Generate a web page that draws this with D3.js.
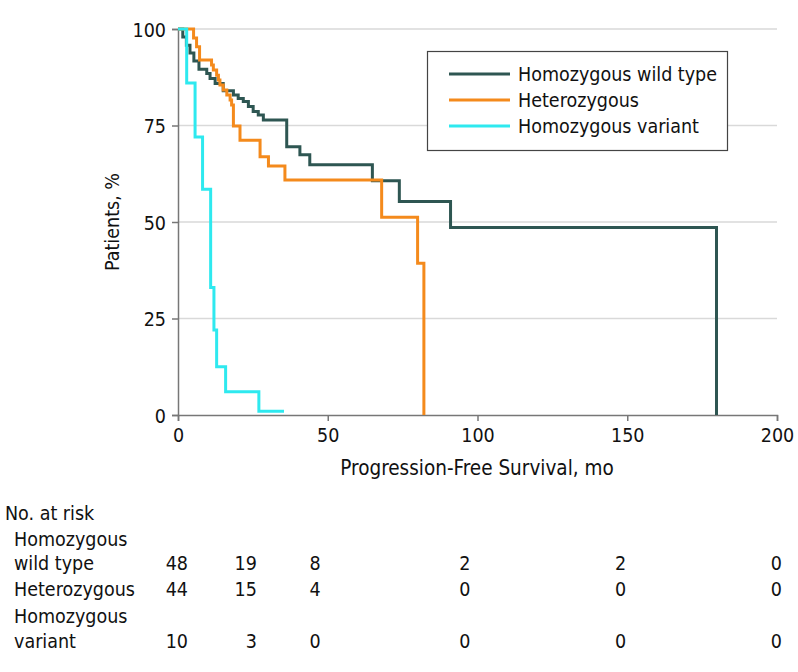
<!DOCTYPE html>
<html><head><meta charset="utf-8">
<script src="https://cdn.jsdelivr.net/npm/d3@7"></script>
<style>
body{margin:0;background:#fff;}
svg{display:block;font-family:"DejaVu Sans Condensed","DejaVu Sans",sans-serif;}
</style></head>
<body><svg id="c" width="798" height="672"></svg>
<script>
// ---- data ----
const seriesNames = ["Homozygous wild type", "Heterozygous", "Homozygous variant"];
const seriesColors = ["#2e5652", "#f48a1c", "#2ee9ef"];
// [time (mo), survival %] after each step
const wildType = [[0,100],[1.6,97.9],[2.8,95.8],[4.0,93.8],[5.3,91.7],[7.0,89.6],[9.6,88.5],[10.7,87.2],[12.4,85.9],[15.1,84.0],[18.5,82.9],[20.1,82.0],[21.8,81.2],[23.5,79.9],[25.1,78.6],[26.8,77.7],[28.5,76.4],[36.3,69.5],[40.7,67.4],[44,64.8],[64.9,60.7],[73.9,55.3],[91,48.6],[179.8,0]];
const heterozygous = [[0,100],[5.2,97.7],[6.2,95.4],[7.2,92.0],[11.2,90.7],[11.8,89.4],[12.9,88],[13.5,86.8],[14,85.5],[15.1,84.2],[16.3,82.9],[17.4,81.6],[17.9,80.3],[18.5,74.9],[20.7,71.2],[27.4,66.9],[30.2,64.5],[35.7,60.9],[68,51.2],[80,39.3],[82.1,0]];
const homVariant = [[0,100],[2.9,86],[5.7,72],[8.2,58.5],[10.9,33],[12,22],[12.9,12.5],[15.9,6],[27,1],[35.4,1]];
const xTicks = [0, 50, 100, 150, 200];
const yTicks = [0, 25, 50, 75, 100];
const riskTimes = [0, 25, 50, 100, 150, 200];
const riskLabels = [["Homozygous","wild type"],["Heterozygous"],["Homozygous","variant"]];
const riskWild = [48, 19, 8, 2, 2, 0];
const riskHet = [44, 15, 4, 0, 0, 0];
const riskVar = [10, 3, 0, 0, 0, 0];

// ---- layout ----
const svg = d3.select("#c");
const L = 178, R = 777, T = 29, B = 415;
const x = d3.scaleLinear().domain([0, 200]).range([L, R]);
const y = d3.scaleLinear().domain([0, 100]).range([B, T]);
const fs = 19.5;
const FF = "'DejaVu Sans Condensed','DejaVu Sans',sans-serif";

// grid
svg.append("g").selectAll("line").data(yTicks.filter(d => d > 0)).join("line")
  .attr("x1", L).attr("x2", R).attr("y1", d => y(d)).attr("y2", d => y(d))
  .attr("stroke", "#d9d9d9").attr("stroke-width", 1.5);

// axes
const xa = svg.append("g").attr("transform", `translate(0,${B})`)
  .call(d3.axisBottom(x).tickValues(xTicks).tickSize(6).tickPadding(7));
const ya = svg.append("g").attr("transform", `translate(${L},0)`)
  .call(d3.axisLeft(y).tickValues(yTicks).tickSize(6).tickPadding(6));
[xa, ya].forEach(a => {
  a.select(".domain").attr("stroke", "#777").attr("stroke-width", 1.5);
  a.selectAll(".tick line").attr("stroke", "#777").attr("stroke-width", 1.5);
  a.selectAll("text").attr("font-size", fs).attr("fill", "#111").attr("font-family", FF);
});
ya.selectAll("text").attr("dy", "0.36em");

// axis titles
svg.append("text").attr("x", 477).attr("y", 475).attr("text-anchor", "middle")
  .attr("font-size", 20.5).attr("fill", "#111").text("Progression-Free Survival, mo");
svg.append("text").attr("transform", `translate(119,${(T + B) / 2}) rotate(-90)`)
  .attr("text-anchor", "middle").attr("font-size", fs).attr("fill", "#111").text("Patients, %");

// curves
const line = d3.line().x(d => x(d[0])).y(d => y(d[1])).curve(d3.curveStepAfter);
const allSeries = [wildType, heterozygous, homVariant];
svg.append("g").selectAll("path").data(allSeries).join("path")
  .attr("d", line).attr("fill", "none")
  .attr("stroke", (d, i) => seriesColors[i]).attr("stroke-width", 3);

// legend
const lg = svg.append("g");
lg.append("rect").attr("x", 427.5).attr("y", 51.5).attr("width", 300).attr("height", 99)
  .attr("fill", "#fff").attr("stroke", "#444").attr("stroke-width", 1.2);
seriesNames.forEach((n, i) => {
  const yy = 74 + i * 26;
  lg.append("line").attr("x1", 449).attr("x2", 510).attr("y1", yy).attr("y2", yy)
    .attr("stroke", seriesColors[i]).attr("stroke-width", 3);
  lg.append("text").attr("x", 518).attr("y", yy).attr("dy", "0.36em")
    .attr("font-size", fs).attr("fill", "#111").text(n);
});

// risk table
const tg = svg.append("g").attr("font-size", fs).attr("fill", "#111");
tg.append("text").attr("x", 5).attr("y", 513).attr("dy", "0.36em").text("No. at risk");
const rowY = [563, 589, 641];
const labelY = [[539, 563], [589], [616, 641]];
riskLabels.forEach((lines, i) => {
  lines.forEach((t, j) => tg.append("text").attr("x", 14).attr("y", labelY[i][j]).attr("dy", "0.36em").text(t));
});
const nudge = [10, 4, -7, -7, -1, 5];
[riskWild, riskHet, riskVar].forEach((row, i) => {
  tg.append("g").selectAll("text").data(row).join("text")
    .attr("x", (d, k) => x(riskTimes[k]) + nudge[k]).attr("y", rowY[i]).attr("dy", "0.36em")
    .attr("text-anchor", "end").text(d => d);
});
</script></body></html>
